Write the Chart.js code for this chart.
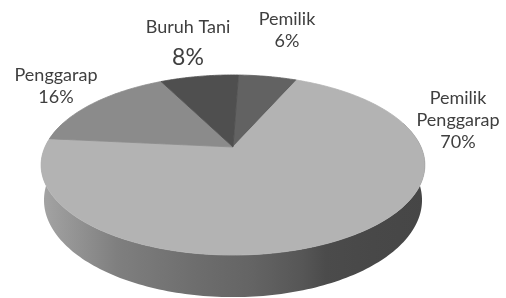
<!DOCTYPE html>
<html>

<head>
  <title>Status petani</title>
  <script src="https://cdn.jsdelivr.net/npm/chart.js"></script>
  <style>
    body { margin: 0; background: #fff; }
    #wrap { width: 506px; height: 298px; }
  </style>
</head>

<body>
  <div id="wrap"><canvas id="myChart"></canvas></div>
  <script>

    let categories = ['Pemilik', 'Pemilik Penggarap', 'Penggarap', 'Buruh Tani'];
    let shares = [6, 70, 16, 8];
    let labelLines = [['Pemilik', '6%'], ['Pemilik', 'Penggarap', '70%'], ['Penggarap', '16%'], ['Buruh Tani', '8%']];
    let sliceColors = ['#626262', '#b3b3b3', '#8b8b8b', '#4f4f4f'];

    // look of the old excel 3d pie: squash, perspective, wall height (in radius units)
    let tilt = { sx: 1.279, sy: 0.588, k: -0.2, depth: 0.229, shrink: 0.985 };
    // brightness of the side wall from left to right
    let wallShade = [[0, 0.92], [0.2, 0.71], [0.41, 0.61], [0.55, 0.56], [0.68, 0.48], [0.74, 0.42], [0.86, 0.40], [1, 0.39]];

    function project(el, ang, down) {
      let R = el.outerRadius;
      let u = Math.cos(ang), v = Math.sin(ang);
      let w = 1 + tilt.k * v;
      let s = down ? tilt.shrink : 1;
      return {
        x: el.x + tilt.sx * R * u * s / w,
        y: el.y + (tilt.sy * R * v + (down ? tilt.depth * R : 0)) / w
      };
    }

    function arcPoints(el, a0, a1, down) {
      let n = Math.max(2, Math.ceil((a1 - a0) / 0.02));
      let pts = [];
      for (let i = 0; i <= n; i++) pts.push(project(el, a0 + (a1 - a0) * i / n, down));
      return pts;
    }

    // only the front part of the wall can be seen
    function wallRanges(a0, a1) {
      let out = [];
      [-2 * Math.PI, 0, 2 * Math.PI].forEach(off => {
        let lo = Math.max(a0, off - 0.3), hi = Math.min(a1, off + Math.PI + 0.3);
        if (hi > lo) out.push([lo, hi]);
      });
      return out;
    }

    function shade(hex, f) {
      let n = parseInt(hex.slice(1), 16);
      let r = Math.round(((n >> 16) & 255) * f);
      let g = Math.round(((n >> 8) & 255) * f);
      let b = Math.round((n & 255) * f);
      return `rgb(${r},${g},${b})`;
    }

    function tracePath(ctx, pts) {
      pts.forEach((p, j) => j ? ctx.lineTo(p.x, p.y) : ctx.moveTo(p.x, p.y));
    }

    let pie3d = {
      id: 'pie3d',
      beforeDatasetsDraw(chart, args, opts) {
        let ctx = chart.ctx;
        let arcs = chart.getDatasetMeta(0).data;
        let colors = chart.data.datasets[0].backgroundColor;
        let el0 = arcs[0];
        let half = tilt.sx * el0.outerRadius * 1.03;
        ctx.save();

        // side wall
        arcs.forEach((el, i) => {
          let grad = ctx.createLinearGradient(el.x - half, 0, el.x + half, 0);
          wallShade.forEach(([t, f]) => grad.addColorStop(t, shade(colors[i], f)));
          wallRanges(el.startAngle, el.endAngle).forEach(([a0, a1]) => {
            let pts = arcPoints(el, a0, a1, false).concat(arcPoints(el, a0, a1, true).reverse());
            ctx.beginPath();
            tracePath(ctx, pts);
            ctx.closePath();
            ctx.fillStyle = grad;
            ctx.fill();
          });
        });

        // top face
        arcs.forEach((el, i) => {
          ctx.beginPath();
          ctx.moveTo(el.x, el.y);
          arcPoints(el, el.startAngle, el.endAngle, false).forEach(p => ctx.lineTo(p.x, p.y));
          ctx.closePath();
          ctx.fillStyle = colors[i];
          ctx.strokeStyle = colors[i];
          ctx.lineWidth = 0.8;
          ctx.fill();
          ctx.stroke();
        });

        // data labels
        ctx.fillStyle = opts.color;
        ctx.textAlign = 'center';
        ctx.textBaseline = 'alphabetic';
        labelLines.forEach((lines, i) => {
          let [dx, dy] = opts.offsets[i];
          let y = el0.y + dy;
          lines.forEach((txt, j) => {
            let last = j === lines.length - 1;
            let size = last ? opts.valueSizes[i] : opts.size;
            if (j > 0) y += opts.lineHeight + (size - opts.size) * 2;
            ctx.font = `${size}px ${opts.family}`;
            ctx.fillText(txt, el0.x + dx, y);
          });
        });

        ctx.restore();
        return false;
      }
    };

    let ctx = document.getElementById('myChart').getContext('2d');
    let myChart = new Chart(ctx, {
      type: 'pie',
      data: {
        labels: categories,
        datasets: [{
          data: shares,
          backgroundColor: sliceColors,
          borderWidth: 0
        }]
      },
      options: {
        responsive: true,
        maintainAspectRatio: false,
        animation: false,
        rotation: 2,
        layout: { padding: { left: 0, right: 40, top: 0, bottom: 4 } },
        plugins: {
          legend: { display: false },
          tooltip: { enabled: false },
          pie3d: {
            family: 'Lato, sans-serif',
            size: 18,
            valueSizes: [18, 18, 18, 23],
            lineHeight: 22,
            color: '#3f3f3f',
            offsets: [[54, -122], [225, -43], [-177, -66], [-45, -114]]
          }
        }
      },
      plugins: [pie3d]
    });

  </script>
</body>

</html>
